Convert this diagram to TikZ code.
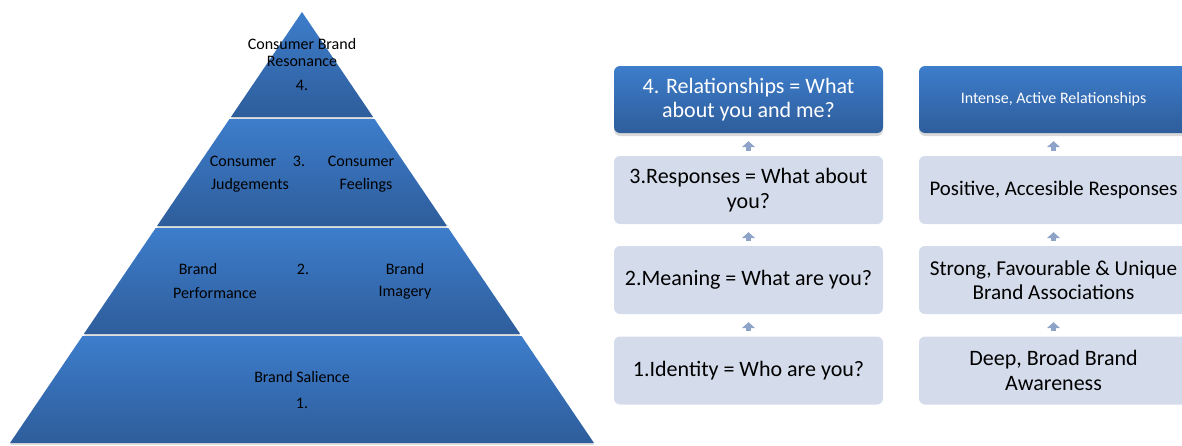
\documentclass[tikz,border=0pt]{standalone}
\usepackage{fontspec}
\setmainfont{Carlito}
\usetikzlibrary{shadows,arrows.meta,calc}
\definecolor{pyrtop}{HTML}{3D7DCB}
\definecolor{pyrbot}{HTML}{2E5D9B}
\definecolor{lightbox}{HTML}{D4DCEB}
\definecolor{arrowc}{HTML}{8EA3C8}
\begin{document}
\begin{tikzpicture}[x=1pt,y=-1pt,
  layer/.style={shading=axis,top color=pyrtop,bottom color=pyrbot,drop shadow={opacity=0.25,shadow xshift=0pt,shadow yshift=-2pt}},
  ptext/.style={font=\fontsize{16}{18}\selectfont,text=black,inner sep=0pt},
  lbox/.style={fill=lightbox,rounded corners=6pt,minimum width=269pt,minimum height=68pt,align=center,font=\fontsize{22}{24.5}\selectfont,text=black,inner sep=2pt},
  dbox/.style={shading=axis,top color=pyrtop,bottom color=pyrbot,rounded corners=6pt,minimum width=269pt,minimum height=67pt,align=center,text=white,inner sep=2pt,drop shadow={opacity=0.3,shadow xshift=0pt,shadow yshift=-3pt}},
  uparr/.style={draw=arrowc,line width=5pt,-{Triangle[width=13pt,length=6pt]}}
]
\useasboundingbox (0,0) rectangle (1182,445);
% pyramid
\path[layer] (302,12) -- (373.1,117) -- (230.9,117) -- cycle;
\path[layer] (229.5,119) -- (374.5,119) -- (447,226) -- (157,226) -- cycle;
\path[layer] (155.7,228) -- (448.3,228) -- (520.2,334) -- (83.8,334) -- cycle;
\path[layer] (82.5,336) -- (521.5,336) -- (594,443) -- (10,443) -- cycle;
% pyramid texts
\node[ptext] (t4a) at (302,44) {Consumer Brand};
\node[ptext] (t4b) at (302,61) {Resonance};
\node[ptext] (t4n) at (302,85) {4.};
\node[ptext] (t3a) at (243,161) {Consumer};
\node[ptext] (t3n) at (299,161) {3.};
\node[ptext] (t3b) at (361,161) {Consumer};
\node[ptext] (t3c) at (250,185) {Judgements};
\node[ptext] (t3d) at (366,185) {Feelings};
\node[ptext] (t2a) at (198,269) {Brand};
\node[ptext] (t2n) at (303,269) {2.};
\node[ptext] (t2b) at (405,269) {Brand};
\node[ptext] (t2c) at (215,293) {Performance};
\node[ptext] (t2d) at (405,293) {Imagery};
\node[ptext] (t1a) at (302,377) {Brand Salience};
\node[ptext] (t1n) at (302,403) {1.};
% left column
\node[dbox,font=\fontsize{22}{24.5}\selectfont] (a4) at (748.5,99.5) {4. Relationships = What\\about you and me?};
\node[lbox] (a3) at (748.5,190) {3.Responses = What about\\you?};
\node[lbox] (a2) at (748.5,280) {2.Meaning = What are you?};
\node[lbox] (a1) at (748.5,370.5) {1.Identity = Who are you?};
% right column
\node[dbox,font=\fontsize{16}{18}\selectfont] (b4) at (1053.5,99.5) {Intense, Active Relationships};
\node[lbox,font=\fontsize{20.8}{24}\selectfont] (b3) at (1053.5,190) {Positive, Accesible Responses};
\node[lbox,font=\fontsize{21.2}{24}\selectfont] (b2) at (1053.5,280) {Strong, Favourable \& Unique\\Brand Associations};
\node[lbox] (b1) at (1053.5,370.5) {Deep, Broad Brand\\Awareness};
% arrows
\foreach \lo/\hi in {a1/a2,a2/a3,a3/a4,b1/b2,b2/b3,b3/b4}{
  \draw[uparr] ($(\lo.north)+(0,-5)$) -- ($(\hi.south)+(0,8)$);
}
\end{tikzpicture}
\end{document}
